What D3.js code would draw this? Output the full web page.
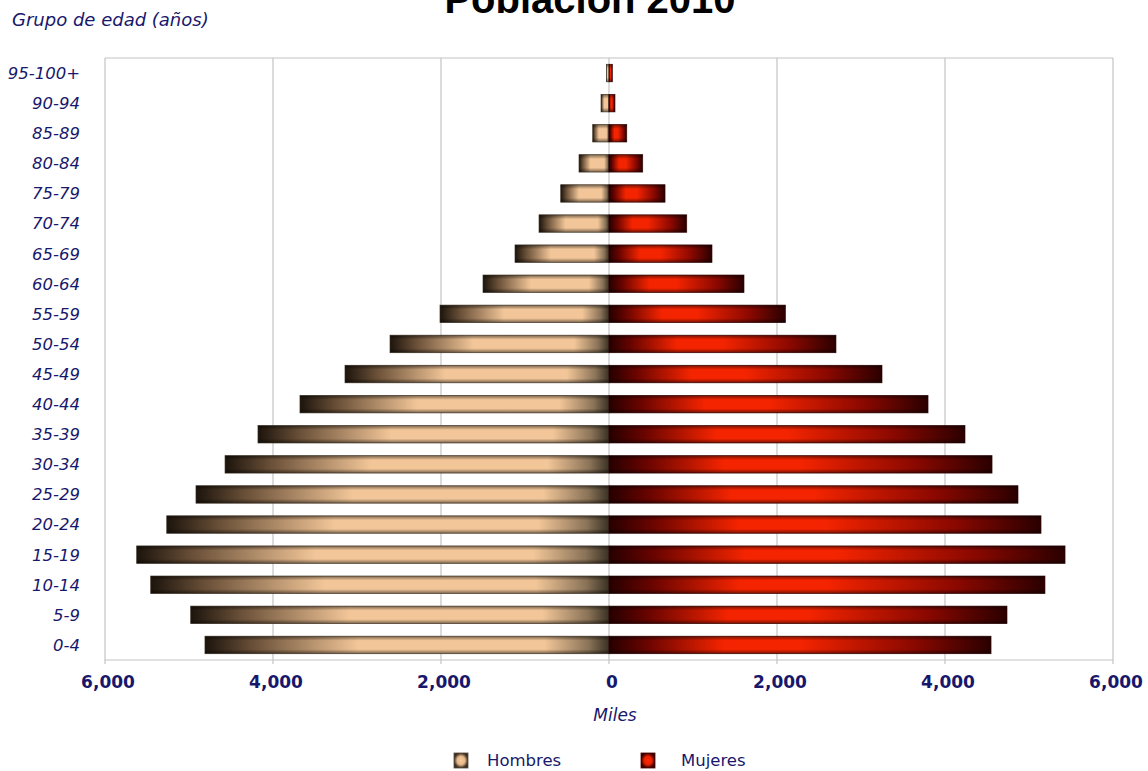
<!DOCTYPE html>
<html>
<head>
<meta charset="utf-8">
<script src="https://cdn.jsdelivr.net/npm/d3@7"></script>
<style>
  html, body { margin: 0; padding: 0; background: #ffffff; }
  svg { display: block; }
</style>
</head>
<body>
<svg id="chart" width="1148" height="771"></svg>
<script>
// ---- data (thousands) ----
const ageGroups = ["0-4","5-9","10-14","15-19","20-24","25-29","30-34","35-39","40-44","45-49",
                   "50-54","55-59","60-64","65-69","70-74","75-79","80-84","85-89","90-94","95-100+"];
const hombres = [4810, 4980, 5456, 5623, 5265, 4917, 4571, 4179, 3679, 3143,
                 2607, 2012, 1500, 1119, 833, 575, 357, 194, 95, 30];
const mujeres = [4548, 4738, 5190, 5429, 5143, 4869, 4560, 4238, 3798, 3250,
                 2702, 2100, 1607, 1226, 925, 667, 401, 211, 71, 40];
const xTicks = [-6000, -4000, -2000, 0, 2000, 4000, 6000];
const seriesNames = ["Hombres", "Mujeres"];

const svg = d3.select("#chart");
const navy = "#17186b";
const font = "'DejaVu Sans', 'Liberation Sans', sans-serif";

const plot = { left: 105, right: 1113, top: 58, bottom: 660 };

const x = d3.scaleLinear().domain([-6000, 6000]).range([plot.left, plot.right]);
const y = d3.scaleBand()
  .domain(ageGroups.slice().reverse())
  .range([plot.top, plot.bottom])
  .paddingInner(0.42)
  .paddingOuter(0.21);

// ---- gradients ----
const defs = svg.append("defs");
function hGrad(id, stops) {
  const g = defs.append("linearGradient").attr("id", id)
    .attr("x1", "0%").attr("x2", "100%").attr("y1", "0%").attr("y2", "0%");
  stops.forEach(s => g.append("stop").attr("offset", s[0]).attr("stop-color", s[1]));
}
hGrad("gradH", [["0%", "#1c140c"], ["12%", "#6a5038"], ["38%", "#f2c698"], ["84%", "#f2c698"], ["95%", "#8a7358"], ["100%", "#3a3124"]]);
hGrad("gradM", [["0%", "#260000"], ["10%", "#6a0400"], ["30%", "#f42400"], ["50%", "#f42400"], ["80%", "#8a0800"], ["100%", "#2a0000"]]);
const vg = defs.append("linearGradient").attr("id", "gradV")
  .attr("x1", "0%").attr("x2", "0%").attr("y1", "0%").attr("y2", "100%");
vg.append("stop").attr("offset", "0%").attr("stop-color", "#000").attr("stop-opacity", 0.5);
vg.append("stop").attr("offset", "25%").attr("stop-color", "#000").attr("stop-opacity", 0.0);
vg.append("stop").attr("offset", "75%").attr("stop-color", "#000").attr("stop-opacity", 0.0);
vg.append("stop").attr("offset", "100%").attr("stop-color", "#000").attr("stop-opacity", 0.5);

// ---- gridlines ----
svg.append("g").selectAll("line").data(xTicks).join("line")
  .attr("x1", d => x(d)).attr("x2", d => x(d))
  .attr("y1", plot.top).attr("y2", plot.bottom + 4)
  .attr("stroke", "#c4c4c4").attr("stroke-width", 1.2);
svg.append("line")
  .attr("x1", plot.left).attr("x2", plot.right)
  .attr("y1", plot.top).attr("y2", plot.top)
  .attr("stroke", "#c4c4c4").attr("stroke-width", 1.2);
svg.append("line")
  .attr("x1", plot.left).attr("x2", plot.right)
  .attr("y1", plot.bottom).attr("y2", plot.bottom)
  .attr("stroke", "#c4c4c4").attr("stroke-width", 1.2);

// ---- bars ----
const rows = ageGroups.map((a, i) => ({ age: a, h: hombres[i], m: mujeres[i] }));
const barsH = svg.append("g");
const barsM = svg.append("g");
barsH.selectAll("rect.f").data(rows).join("rect")
  .attr("x", d => x(-d.h)).attr("width", d => x(0) - x(-d.h))
  .attr("y", d => y(d.age)).attr("height", y.bandwidth())
  .attr("fill", "url(#gradH)");
barsH.selectAll("rect.o").data(rows).join("rect")
  .attr("x", d => x(-d.h)).attr("width", d => x(0) - x(-d.h))
  .attr("y", d => y(d.age)).attr("height", y.bandwidth())
  .attr("fill", "url(#gradV)").attr("stroke", "#3a2e22").attr("stroke-width", 0.8).attr("stroke-opacity", 0.8);
barsM.selectAll("rect.f").data(rows).join("rect")
  .attr("x", x(0)).attr("width", d => x(d.m) - x(0))
  .attr("y", d => y(d.age)).attr("height", y.bandwidth())
  .attr("fill", "url(#gradM)");
barsM.selectAll("rect.o").data(rows).join("rect")
  .attr("x", x(0)).attr("width", d => x(d.m) - x(0))
  .attr("y", d => y(d.age)).attr("height", y.bandwidth())
  .attr("fill", "url(#gradV)").attr("stroke", "#2a0000").attr("stroke-width", 0.8).attr("stroke-opacity", 0.8);

// ---- y labels ----
svg.append("g").selectAll("text").data(ageGroups).join("text")
  .attr("x", 80).attr("y", d => y(d) + y.bandwidth() / 2)
  .attr("dy", "0.36em")
  .attr("text-anchor", "end")
  .attr("font-family", font).attr("font-style", "italic")
  .attr("font-size", 16.5).attr("fill", navy)
  .text(d => d);

// ---- x tick labels ----
svg.append("g").selectAll("text").data(xTicks).join("text")
  .attr("x", d => x(d) + 3).attr("y", 688)
  .attr("text-anchor", "middle")
  .attr("font-family", font).attr("font-weight", "bold")
  .attr("font-size", 17).attr("fill", navy)
  .text(d => d3.format(",")(Math.abs(d)));

// ---- axis titles ----
svg.append("text")
  .attr("x", 615).attr("y", 721)
  .attr("text-anchor", "middle")
  .attr("font-family", font).attr("font-style", "italic")
  .attr("font-size", 17).attr("fill", navy)
  .text("Miles");
svg.append("text")
  .attr("x", 12).attr("y", 26)
  .attr("font-family", font).attr("font-style", "italic")
  .attr("font-size", 18).attr("fill", navy)
  .text("Grupo de edad (años)");

// ---- title (cut off at the top, as in the reference) ----
svg.append("text")
  .attr("x", 590).attr("y", 13)
  .attr("text-anchor", "middle")
  .attr("font-family", "'Liberation Sans', Arial, sans-serif").attr("font-weight", "bold")
  .attr("font-size", 40).attr("fill", "#000")
  .text("Población 2010");

// ---- legend ----
const legendX = [454, 641];
const leg = svg.append("g").selectAll("g").data(seriesNames).join("g")
  .attr("transform", (d, i) => `translate(${legendX[i]},753)`);
const lgH = defs.append("radialGradient").attr("id", "legH");
lgH.append("stop").attr("offset", "0%").attr("stop-color", "#f6cc9e");
lgH.append("stop").attr("offset", "55%").attr("stop-color", "#e8b888");
lgH.append("stop").attr("offset", "100%").attr("stop-color", "#3a2e22");
const lgM = defs.append("radialGradient").attr("id", "legM");
lgM.append("stop").attr("offset", "0%").attr("stop-color", "#ff2a00");
lgM.append("stop").attr("offset", "55%").attr("stop-color", "#e82000");
lgM.append("stop").attr("offset", "100%").attr("stop-color", "#3a0000");
leg.append("rect").attr("width", 14).attr("height", 15)
  .attr("fill", (d, i) => i === 0 ? "url(#legH)" : "url(#legM)")
  .attr("stroke", (d, i) => i === 0 ? "#5a4a3a" : "#4a0000").attr("stroke-width", 0.8);
leg.append("text")
  .attr("x", (d, i) => i === 0 ? 33 : 40).attr("y", 13)
  .attr("font-family", font).attr("font-size", 16.5).attr("fill", navy)
  .text(d => d);
</script>
</body>
</html>
